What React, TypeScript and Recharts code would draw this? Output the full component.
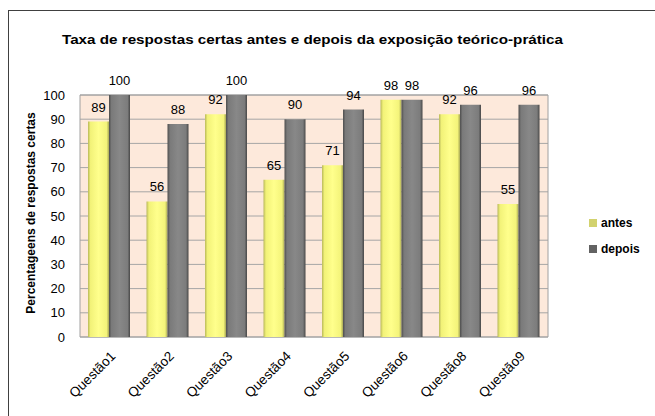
import React from "react";
import {
  BarChart,
  Bar,
  XAxis,
  YAxis,
  CartesianGrid,
  LabelList,
  ReferenceArea,
} from "recharts";

const categories = ["Questão1", "Questão2", "Questão3", "Questão4", "Questão5", "Questão6", "Questão8", "Questão9"];
const antes = [89, 56, 92, 65, 71, 98, 92, 55];
const depois = [100, 88, 100, 90, 94, 98, 96, 96];
const yTicks = [0, 10, 20, 30, 40, 50, 60, 70, 80, 90, 100];
const seriesNames = ["antes", "depois"];
const titleText = "Taxa de respostas certas antes e depois da exposição teórico-prática";
const yLabelText = "Percentageens de respostas certas";

const data = categories.map((q, i) => ({ q, antes: antes[i], depois: depois[i] }));

const FONT = "'Liberation Sans', Arial, sans-serif";
const legendColors = ["#D2D26E", "#626262"];

const XTick = (props: any) => {
  const { x, y, payload } = props;
  const ax = x + 7;
  const ay = y + 12;
  return (
    <text
      x={ax}
      y={ay}
      transform={`rotate(-45, ${ax}, ${ay})`}
      textAnchor="end"
      fontSize={13.5}
      fontFamily={FONT}
      fill="#000"
    >
      {payload.value}
    </text>
  );
};

const YLabel = (props: any) => {
  const vb = props.viewBox || {};
  const cy = vb.y + vb.height / 2 - 3;
  const cx = 35;
  return (
    <text
      x={cx}
      y={cy}
      transform={`rotate(-90, ${cx}, ${cy})`}
      textAnchor="middle"
      fontSize={12}
      fontWeight="bold"
      fontFamily={FONT}
      fill="#000"
    >
      {yLabelText}
    </text>
  );
};

export default function App() {
  return (
    <div
      style={{
        position: "fixed",
        left: 0,
        top: 0,
        width: 655,
        height: 416,
        overflow: "hidden",
        background: "#fff",
      }}
    >
      <svg width={0} height={0} style={{ position: "absolute" }}>
        <defs>
          <linearGradient id="gYellow" x1="0" y1="0" x2="1" y2="0">
            <stop offset="0%" stopColor="#B9B95A" />
            <stop offset="12%" stopColor="#F2F278" />
            <stop offset="50%" stopColor="#FFFF8C" />
            <stop offset="88%" stopColor="#F4F47A" />
            <stop offset="100%" stopColor="#A9A955" />
          </linearGradient>
          <linearGradient id="gGrey" x1="0" y1="0" x2="1" y2="0">
            <stop offset="0%" stopColor="#4E4E4E" />
            <stop offset="12%" stopColor="#7A7A7A" />
            <stop offset="50%" stopColor="#888888" />
            <stop offset="88%" stopColor="#7C7C7C" />
            <stop offset="100%" stopColor="#474747" />
          </linearGradient>
        </defs>
      </svg>
      <div
        style={{
          position: "absolute",
          left: 8,
          top: 10,
          width: 700,
          height: 500,
          border: "1.5px solid #404040",
        }}
      />
      <div style={{ position: "absolute", left: 0, top: 0 }}>
        <BarChart
          width={655}
          height={416}
          data={data}
          margin={{ top: 95, right: 107, bottom: 19, left: 0 }}
          barGap={0}
          barCategoryGap="14%"
        >
          <CartesianGrid horizontal vertical={false} stroke="#A6A6A6" fill="#FDE9DB" fillOpacity={1} />
          <XAxis
            dataKey="q"
            height={60}
            axisLine={false}
            tickLine={false}
            tick={<XTick />}
            interval={0}
          />
          <YAxis
            width={80}
            domain={[0, 100]}
            ticks={yTicks}
            interval={0}
            axisLine={false}
            tickLine={false}
            tickSize={6}
            tickMargin={9}
            tick={{ fontSize: 13, fill: "#000", fontFamily: FONT }}
            label={<YLabel />}
          />
          <ReferenceArea y1={0} y2={100} fill="none" fillOpacity={0} stroke="#A0A0A0" strokeWidth={1} />
          <Bar dataKey="antes" name={seriesNames[0]} fill="url(#gYellow)" barSize={21} isAnimationActive={false}>
            <LabelList dataKey="antes" position="top" offset={10} fontSize={13} fill="#000" fontFamily={FONT} />
          </Bar>
          <Bar dataKey="depois" name={seriesNames[1]} fill="url(#gGrey)" barSize={21} isAnimationActive={false}>
            <LabelList dataKey="depois" position="top" offset={10} fontSize={13} fill="#000" fontFamily={FONT} />
          </Bar>
        </BarChart>
      </div>
      <div style={{ position: "absolute", left: 589, top: 210, fontFamily: FONT }}>
        {seriesNames.map((name, i) => (
          <div key={name} style={{ display: "flex", alignItems: "center", height: 26 }}>
            <div style={{ width: 8, height: 8, background: legendColors[i], marginRight: 4 }} />
            <span style={{ fontSize: 12, fontWeight: "bold", color: "#000" }}>{name}</span>
          </div>
        ))}
      </div>
      <svg width={655} height={60} style={{ position: "absolute", left: 0, top: 0 }}>
        <text
          x={62}
          y={44}
          fontSize={13.5}
          fontWeight="bold"
          fontFamily={FONT}
          fill="#000"
          textLength={501}
          lengthAdjust="spacingAndGlyphs"
        >
          {titleText}
        </text>
      </svg>
    </div>
  );
}
